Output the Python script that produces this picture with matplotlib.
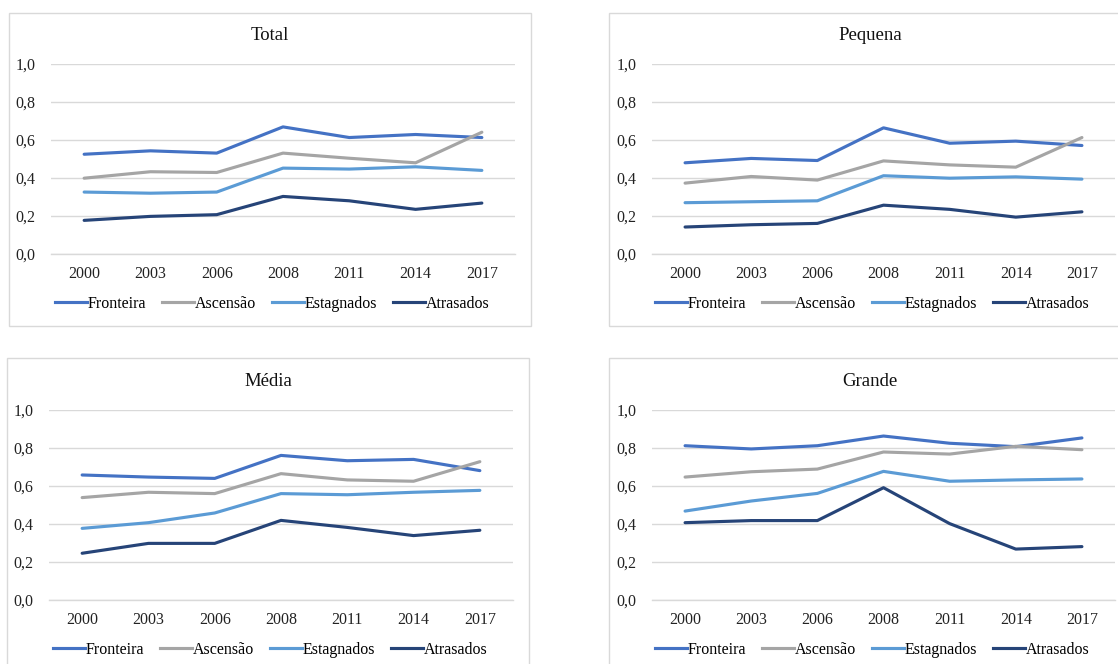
import matplotlib
matplotlib.use("Agg")
import matplotlib.pyplot as plt
from matplotlib.patches import Rectangle
from matplotlib.lines import Line2D
from matplotlib.ticker import FuncFormatter

plt.rcParams['font.family'] = ['Liberation Serif', 'DejaVu Serif']

years = ["2000", "2003", "2006", "2008", "2011", "2014", "2017"]
series_names = ["Fronteira", "Ascensão", "Estagnados", "Atrasados"]
colors = ["#4472C4", "#A5A5A5", "#5B9BD5", "#264478"]

total_fronteira = [0.525, 0.543, 0.531, 0.669, 0.613, 0.629, 0.613]
total_ascensao = [0.399, 0.433, 0.429, 0.531, 0.504, 0.480, 0.641]
total_estagnados = [0.326, 0.320, 0.326, 0.452, 0.447, 0.459, 0.440]
total_atrasados = [0.177, 0.198, 0.207, 0.303, 0.280, 0.235, 0.268]

pequena_fronteira = [0.480, 0.503, 0.492, 0.664, 0.583, 0.594, 0.571]
pequena_ascensao = [0.373, 0.408, 0.389, 0.490, 0.469, 0.457, 0.613]
pequena_estagnados = [0.270, 0.275, 0.280, 0.412, 0.399, 0.406, 0.394]
pequena_atrasados = [0.142, 0.154, 0.161, 0.257, 0.235, 0.194, 0.222]

media_fronteira = [0.658, 0.647, 0.640, 0.761, 0.733, 0.740, 0.681]
media_ascensao = [0.539, 0.567, 0.560, 0.665, 0.632, 0.625, 0.728]
media_estagnados = [0.377, 0.407, 0.458, 0.560, 0.554, 0.567, 0.577]
media_atrasados = [0.246, 0.298, 0.298, 0.419, 0.382, 0.339, 0.367]

grande_fronteira = [0.812, 0.795, 0.812, 0.863, 0.825, 0.807, 0.853]
grande_ascensao = [0.647, 0.675, 0.689, 0.779, 0.768, 0.809, 0.791]
grande_estagnados = [0.468, 0.521, 0.561, 0.677, 0.625, 0.632, 0.637]
grande_atrasados = [0.407, 0.418, 0.418, 0.591, 0.402, 0.268, 0.281]

panels = [
    ("Total", [total_fronteira, total_ascensao, total_estagnados, total_atrasados]),
    ("Pequena", [pequena_fronteira, pequena_ascensao, pequena_estagnados, pequena_atrasados]),
    ("Média", [media_fronteira, media_ascensao, media_estagnados, media_atrasados]),
    ("Grande", [grande_fronteira, grande_ascensao, grande_estagnados, grande_atrasados]),
]

W, H = 1118, 664
fig = plt.figure(figsize=(W / 100, H / 100), dpi=100)

# layout in pixels: box (x0, y0, x1, y1), axes (x0, y0, x1, y1), title/legend centre x  (y from top)
layouts = [
    ((9, 13, 531, 326), (51, 64, 515, 254), 270),
    ((609, 13, 1140, 326), (652, 64, 1115, 254), 870),
    ((7, 358, 529, 690), (49, 410, 513, 600), 268),
    ((609, 358, 1140, 690), (652, 410, 1115, 600), 870),
]

def fx(x):
    return x / W

def fy(y):
    return 1 - y / H

fmt = FuncFormatter(lambda v, p: f"{v:.1f}".replace(".", ","))

for (title, data), (box, axr, cx) in zip(panels, layouts):
    bx0, by0, bx1, by1 = box
    fig.patches.append(Rectangle((fx(bx0), fy(by1)), fx(bx1 - bx0), (by1 - by0) / H,
                                 transform=fig.transFigure, fill=False,
                                 edgecolor="#D9D9D9", linewidth=1.0, zorder=0))
    ax0, ay0, ax1, ay1 = axr
    ax = fig.add_axes([fx(ax0), fy(ay1), fx(ax1 - ax0), (ay1 - ay0) / H])
    x = list(range(len(years)))
    for vals, name, c in zip(data, series_names, colors):
        ax.plot(x, vals, color=c, linewidth=2.25, label=name, solid_capstyle="round", zorder=3)
    ax.set_xlim(-0.5, len(years) - 0.5)
    ax.set_ylim(0, 1.0)
    ax.set_yticks([0, 0.2, 0.4, 0.6, 0.8, 1.0])
    ax.yaxis.set_major_formatter(fmt)
    ax.set_xticks(x)
    ax.set_xticklabels(years)
    ax.grid(axis="y", color="#D9D9D9", linewidth=1.0, zorder=0)
    ax.set_axisbelow(True)
    for s in ["top", "right", "left"]:
        ax.spines[s].set_visible(False)
    ax.spines["bottom"].set_color("#D9D9D9")
    ax.spines["bottom"].set_linewidth(1.0)
    ax.tick_params(axis="both", length=0, labelsize=11.5, colors="#222222")
    ax.tick_params(axis="y", pad=11)
    ax.tick_params(axis="x", pad=9)
    fig.text(fx(cx), fy(ay0 - 29), title, ha="center", va="center", fontsize=13.5, color="#111111")
    handles = [Line2D([0], [0], color=c, linewidth=2.25) for c in colors]
    fig.legend(handles, series_names, loc="center", bbox_to_anchor=(fx(cx + 2), fy(ay1 + 50)),
               ncol=4, frameon=False, fontsize=11.5, handlelength=2.0, handletextpad=0.05,
               columnspacing=1.0, borderaxespad=0, borderpad=0)

fig.savefig("out.png", dpi=100, facecolor="white")
